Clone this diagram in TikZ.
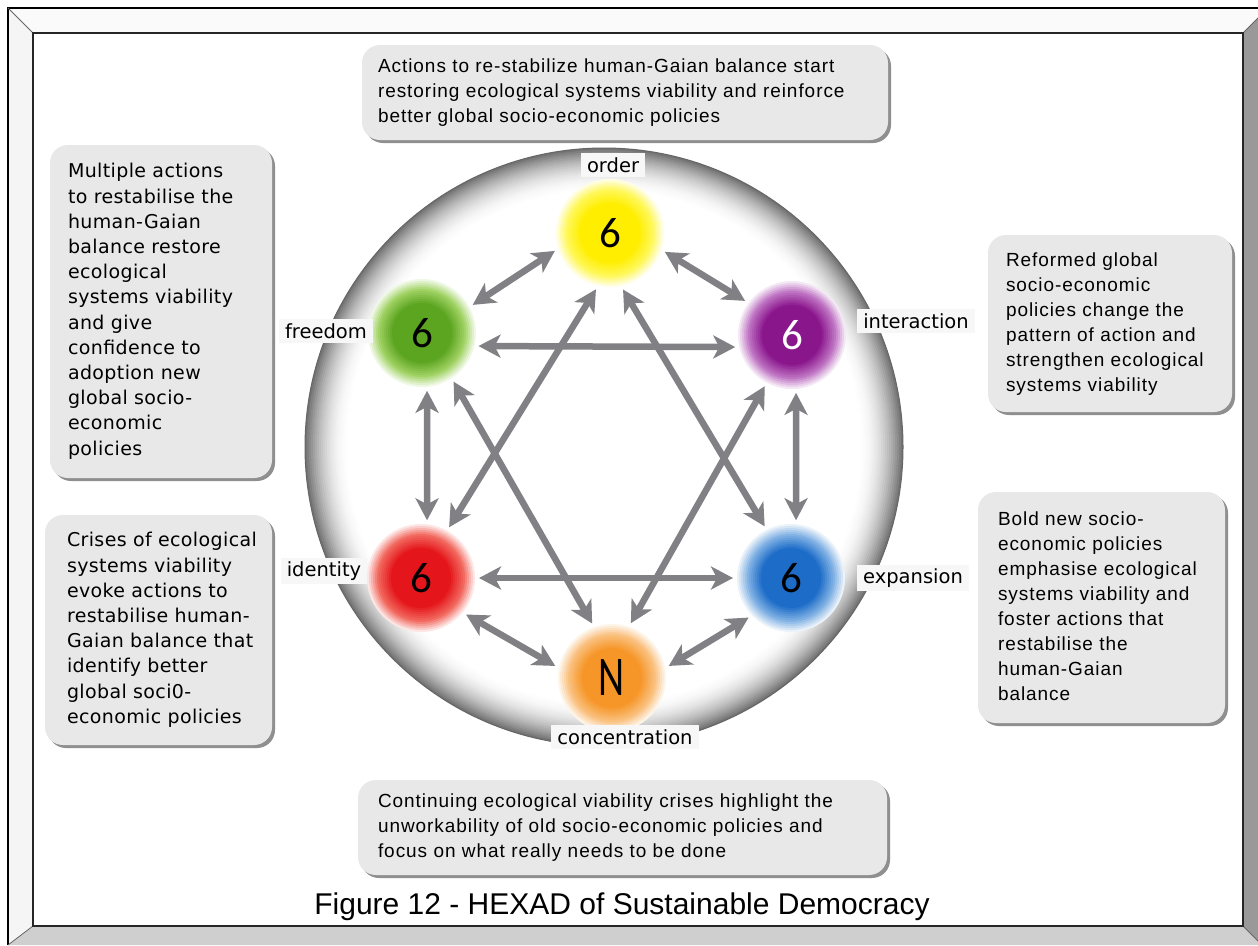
\documentclass[tikz,border=0pt]{standalone}
\usepackage{fontspec}
\setmainfont{Liberation Sans}
\newfontfamily\boxfont[LetterSpace=5]{Liberation Sans}
\newfontfamily\leftfont[LetterSpace=2]{DejaVu Sans}
\newfontfamily\lblfont{DejaVu Sans}
\newfontfamily\numfont{Carlito}
\usetikzlibrary{arrows.meta,shadows}

\definecolor{arrowgray}{RGB}{128,128,133}
\definecolor{boxgray}{RGB}{232,232,232}
\definecolor{Yin}{RGB}{255,238,0}\definecolor{Yout}{RGB}{255,248,90}
\definecolor{Gin}{RGB}{92,165,32}\definecolor{Gout}{RGB}{160,210,100}
\definecolor{Pin}{RGB}{138,22,140}\definecolor{Pout}{RGB}{190,115,195}
\definecolor{Rin}{RGB}{228,22,28}\definecolor{Rout}{RGB}{242,105,95}
\definecolor{Bin}{RGB}{28,108,200}\definecolor{Bout}{RGB}{130,178,228}
\definecolor{Oin}{RGB}{246,150,40}\definecolor{Oout}{RGB}{250,192,125}

\newcommand\boxlines[1]{\begin{tabular}{@{}l@{}}#1\end{tabular}}

\tikzset{
  hexnode/.style={circle, minimum size=116pt, inner sep=0pt, outer sep=0pt,
    font=\numfont\fontsize{43}{43}\selectfont},
  spot/.style 2 args={hexnode, path picture={
    \foreach \r in {54,52,...,44}{
      \pgfmathsetmacro\p{(56-\r)/12*100}
      \fill[#2!\p!white] (path picture bounding box.center) circle (\r pt);}
    \foreach \r in {42,40,...,30}{
      \pgfmathsetmacro\q{(44-\r)/14*100}
      \fill[#1!\q!#2] (path picture bounding box.center) circle (\r pt);}
    \fill[#1] (path picture bounding box.center) circle (29pt);}},
  ringstyle/.style={circle, minimum size=598pt, inner sep=0pt, path picture={
    \foreach \k in {0,...,22}{
      \pgfmathsetmacro\rr{299-2*\k}
      \pgfmathsetmacro\g{55*(1-\k/22)^2}
      \fill[black!\g!white] (path picture bounding box.center) circle (\rr pt);}
    \fill[white] (path picture bounding box.center) circle (254pt);}},
  lbl/.style={font=\lblfont\fontsize{19.5}{20}\selectfont, fill=black!3, inner xsep=6pt, inner ysep=4pt},
  biarrow/.style={draw=arrowgray, line width=6.5pt,
    arrows={Stealth[length=22pt,width=23pt,inset=6pt]-Stealth[length=22pt,width=23pt,inset=6pt]}},
  txtbox/.style={fill=boxgray, rounded corners=18pt, align=left, inner ysep=0pt,
    drop shadow={shadow xshift=3pt, shadow yshift=-3pt, fill=black!55, opacity=0.8}},
  rbox/.style={txtbox, font=\boxfont\fontsize{19}{25}\selectfont},
  lbox/.style={txtbox, font=\leftfont\fontsize{19}{25.2}\selectfont},
}

\begin{document}
\begin{tikzpicture}[x=1pt,y=-1pt]
\useasboundingbox (0,0) rectangle (1258,945);
\fill[white] (0,0) rectangle (1258,945);
% frame bevels
\fill[black!2] (8,8) -- (1258,8) -- (1258,18) -- (1243,33) -- (33,33) -- cycle;
\fill[black!4] (8,8) -- (33,33) -- (33,926) -- (8,945) -- cycle;
\fill[black!19] (8,945) -- (33,926) -- (1243,926) -- (1258,941) -- (1258,945) -- cycle;
\fill[black!40] (1258,18) -- (1243,33) -- (1243,926) -- (1258,941) -- cycle;
\draw[black, line width=1.5pt] (8,945) -- (8,8) -- (1258,8);
\draw[black!60, line width=0.8pt] (8,8) -- (33,33) (1243,33) -- (1258,18) (1243,926) -- (1258,941) (33,926) -- (8,945);
\draw[black!85, line width=1.5pt] (33,33) rectangle (1243,926);

% big circle
\node[ringstyle] (ring) at (604,447) {};
\draw[black!60, line width=1pt] (ring.center) circle (299pt);

% hexad nodes
\node[spot={Yin}{Yout}] (order) at (610,233) {6};
\node[spot={Gin}{Gout}] (freedom) at (422,333) {6};
\node[spot={Pin}{Pout}, text=white] (interaction) at (792,335) {6};
\node[spot={Rin}{Rout}] (identity) at (421,578) {6};
\node[spot={Bin}{Bout}] (expansion) at (791,578) {6};
\node[spot={Oin}{Oout}] (conc) at (612,678) {\scalebox{0.72}[1]{\fontsize{56}{56}\selectfont N}};

% labels
\node[lbl] (lorder) at (613,165) {order};
\node[lbl] (lfreedom) at (326,331) {freedom};
\node[lbl] (linteraction) at (916,321) {interaction};
\node[lbl] (lidentity) at (324,571) {identity};
\node[lbl] (lexpansion) at (913,578) {expansion};
\node[lbl] (lconc) at (625,737) {concentration};

% arrows
\draw[biarrow] (order.198) -- (freedom.29);
\draw[biarrow] (order.341) -- (interaction.144);
\draw[biarrow] (freedom.347) -- (interaction.192);
\draw[biarrow] (freedom.275) -- (identity.84);
\draw[biarrow] (interaction.274) -- (expansion.85);
\draw[biarrow] (identity.0) -- (expansion.180);
\draw[biarrow] (identity.321) -- (conc.168);
\draw[biarrow] (expansion.223) -- (conc.12);
\draw[biarrow] (identity.61) -- (order.256);
\draw[biarrow] (expansion.117) -- (order.283);
\draw[biarrow] (freedom.303) -- (conc.110);
\draw[biarrow] (interaction.242) -- (conc.71);

% text boxes
\node[rbox, minimum width=526pt, minimum height=95pt, inner xsep=16pt, text width=494pt] (topbox) at (625,92.5)
 {\boxlines{Actions to re-stabilize human-Gaian balance start\\restoring ecological systems viability and reinforce\\better global socio-economic policies}};
\node[lbox, minimum width=222pt, minimum height=333pt, inner xsep=18pt, text width=186pt] (lefttop) at (161,311.5)
 {\boxlines{Multiple actions\\to restabilise the\\human-Gaian\\balance restore\\ecological\\systems viability\\and give\\confidence to\\adoption new\\global socio-\\economic\\policies}};
\node[lbox, minimum width=227pt, minimum height=230pt, inner xsep=22pt, text width=183pt] (leftbot) at (158.5,630)
 {\boxlines{Crises of ecological\\systems viability\\evoke actions to\\restabilise human-\\Gaian balance that\\identify better\\global soci0-\\economic policies}};
\node[rbox, minimum width=244pt, minimum height=177pt, inner xsep=18pt, text width=208pt] (righttop) at (1110,323.5)
 {\boxlines{Reformed global\\socio-economic\\policies change the\\pattern of action and\\strengthen ecological\\systems viability}};
\node[rbox, minimum width=247pt, minimum height=231pt, inner xsep=20pt, text width=207pt] (rightbot) at (1101.5,607.5)
 {\boxlines{Bold new socio-\\economic policies\\emphasise ecological\\systems viability and\\foster actions that\\restabilise the\\human-Gaian\\balance}};
\node[rbox, minimum width=529pt, minimum height=95pt, inner xsep=20pt, text width=489pt] (botbox) at (622.5,827.5)
 {\boxlines{Continuing ecological viability crises highlight the\\unworkability of old socio-economic policies and\\focus on what really needs to be done}};

% title
\node[anchor=base, font=\fontsize{30}{30}\selectfont] (title) at (622,914) {Figure 12 - HEXAD of Sustainable Democracy};
\end{tikzpicture}
\end{document}
